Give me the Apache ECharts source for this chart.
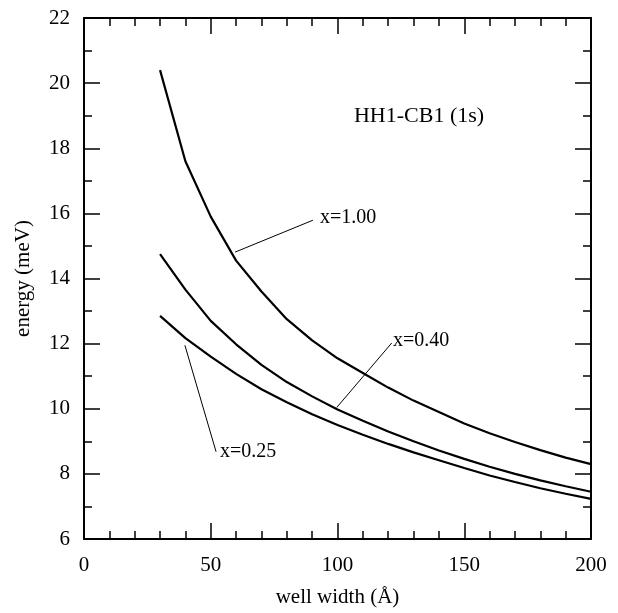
<!DOCTYPE html>
<html>
<head>
<meta charset="utf-8">
<script src="https://cdn.jsdelivr.net/npm/echarts@6/dist/echarts.min.js"></script>
<style>
  html, body { margin: 0; padding: 0; background: #fff; }
  #chart { width: 618px; height: 613px; }
</style>
</head>
<body>
<div id="chart"></div>
<script>
  // well width (Å)
  var widths = [30, 40, 50, 60, 70, 80, 90, 100, 110, 120, 130, 140, 150, 160, 170, 180, 190, 200]
  // HH1-CB1 (1s) energy (meV)
  var energyX100 = [20.4, 17.6, 15.9, 14.55, 13.6, 12.75, 12.1, 11.55, 11.1, 10.65, 10.25, 9.9, 9.55, 9.25, 8.98, 8.73, 8.5, 8.3]
  var energyX040 = [14.75, 13.66, 12.7, 11.98, 11.35, 10.82, 10.38, 9.98, 9.63, 9.3, 9.0, 8.72, 8.46, 8.22, 8.0, 7.8, 7.62, 7.45]
  var energyX025 = [12.85, 12.17, 11.6, 11.07, 10.6, 10.2, 9.83, 9.5, 9.2, 8.92, 8.66, 8.42, 8.18, 7.95, 7.75, 7.56, 7.39, 7.23]

  // leader lines: [label end, curve end]
  var leaderX100 = [[90.3, 15.79], [59.6, 14.81]]
  var leaderX040 = [[121.4, 12.02], [99.7, 10.04]]
  var leaderX025 = [[52.1, 8.68], [39.8, 11.95]]
  var curveLabels = [
    {text: 'x=1.00', at: [93.1, 15.88], size: 20},
    {text: 'x=0.40', at: [121.9, 12.1], size: 20},
    {text: 'x=0.25', at: [53.6, 8.67], size: 20},
    {text: 'HH1-CB1 (1s)', at: [106.5, 18.98], size: 22}
  ]

  var font = '"Liberation Serif", "DejaVu Serif", serif'

  function zip(xs, ys) {
    return xs.map(function (x, i) { return [x, ys[i]] })
  }

  function curve(values) {
    return {
      type: 'line',
      data: zip(widths, values),
      symbol: 'none',
      smooth: false,
      silent: true,
      lineStyle: {color: '#000', width: 2.2}
    }
  }

  function leader(points) {
    return {
      type: 'line',
      data: points,
      symbol: 'none',
      silent: true,
      lineStyle: {color: '#000', width: 1}
    }
  }

  var frameX = {
    type: 'value', min: 0, max: 200, interval: 50,
    axisLine: {show: true, onZero: false, lineStyle: {color: '#000', width: 2}},
    axisTick: {show: true, inside: true, length: 16, lineStyle: {color: '#000', width: 1.5}},
    minorTick: {show: true, splitNumber: 5, length: 8, lineStyle: {color: '#000', width: 1.5}},
    splitLine: {show: false}
  }
  var frameY = {
    type: 'value', min: 6, max: 22, interval: 2,
    axisLine: {show: true, onZero: false, lineStyle: {color: '#000', width: 2}},
    axisTick: {show: true, inside: true, length: 16, lineStyle: {color: '#000', width: 1.5}},
    minorTick: {show: true, splitNumber: 2, length: 8, lineStyle: {color: '#000', width: 1.5}},
    splitLine: {show: false}
  }

  var chart = echarts.init(document.getElementById('chart'), null, {renderer: 'canvas'})
  chart.setOption({
    backgroundColor: '#fff',
    animation: false,
    grid: {left: 84, right: 27, top: 18, bottom: 74},
    xAxis: [
      Object.assign({}, frameX, {
        position: 'bottom',
        name: 'well width (Å)',
        nameLocation: 'middle',
        nameGap: 48,
        nameTextStyle: {fontFamily: font, fontSize: 21, color: '#000'},
        axisLabel: {fontFamily: font, fontSize: 21, color: '#000', margin: 16}
      }),
      Object.assign({}, frameX, {position: 'top', axisLabel: {show: false}})
    ],
    yAxis: [
      Object.assign({}, frameY, {
        position: 'left',
        name: 'energy (meV)',
        nameLocation: 'middle',
        nameGap: 50,
        nameTextStyle: {fontFamily: font, fontSize: 21, color: '#000'},
        axisLabel: {fontFamily: font, fontSize: 21, color: '#000', margin: 14}
      }),
      Object.assign({}, frameY, {position: 'right', axisLabel: {show: false}})
    ],
    series: [
      curve(energyX100),
      curve(energyX040),
      curve(energyX025),
      leader(leaderX100),
      leader(leaderX040),
      leader(leaderX025),
      {
        type: 'scatter',
        symbolSize: 0,
        silent: true,
        itemStyle: {opacity: 1, color: '#000'},
        data: curveLabels.map(function (d) {
          return {value: d.at, name: d.text, label: {fontSize: d.size}}
        }),
        label: {
          show: true,
          position: 'right',
          distance: 0,
          formatter: '{b}',
          fontFamily: font,
          color: '#000'
        }
      }
    ]
  })
</script>
</body>
</html>
